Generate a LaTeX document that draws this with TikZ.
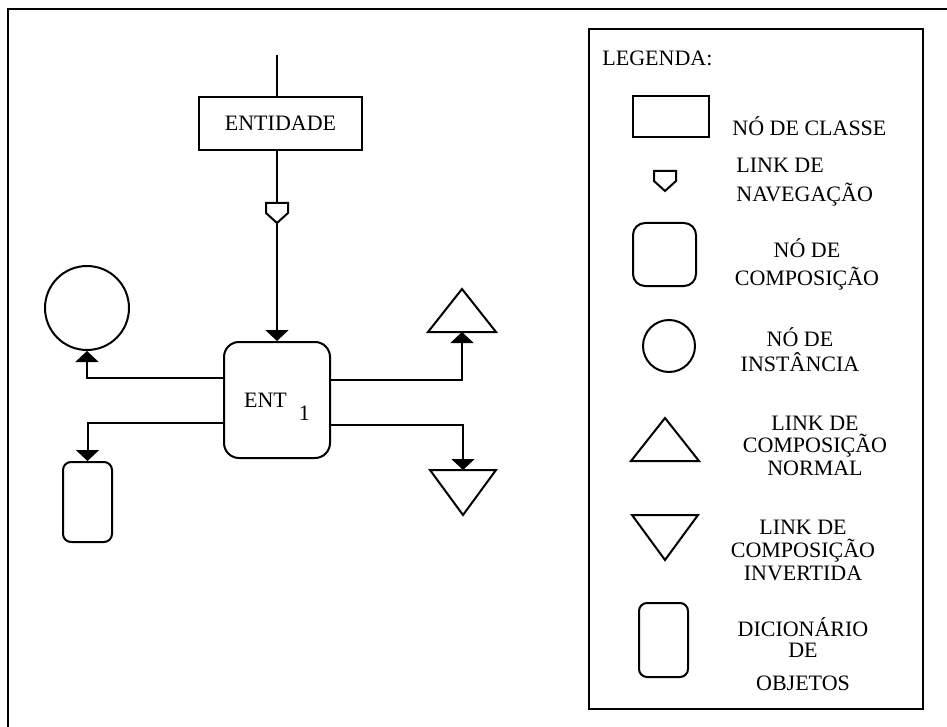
\documentclass[tikz,border=0pt]{standalone}
\usepackage{fontspec}
\setmainfont{Liberation Serif}
\usetikzlibrary{arrows.meta}

\newcommand\legfont[1]{\fontsize{11}{#1}\selectfont}

\tikzset{
  classe/.style={draw, line width=1pt, inner sep=0pt},
  compos/.style={draw, line width=1pt, inner sep=0pt},
  inst/.style={draw, circle, line width=1pt, inner sep=0pt},
  link/.style={line width=1pt, -{Triangle[width=11.5pt,length=5.5pt]}},
  legtext/.style={inner sep=0pt, align=center},
  pics/navlink/.style={code={
    \draw[line width=1pt] (-11,0) -- (11,0) -- (11,10) -- (0,20) -- (-11,10) -- cycle;
    \coordinate (-top) at (0,0);
    \coordinate (-bot) at (0,20);
  }},
  pics/normlink/.style={code={
    \draw[line width=1pt] (-34,0) -- (34,0) -- (0,-43) -- cycle;
    \coordinate (-base) at (0,0);
  }},
  pics/invlink/.style={code={
    \draw[line width=1pt] (-33,0) -- (33,0) -- (0,45) -- cycle;
    \coordinate (-top) at (0,0);
  }},
}

\begin{document}
\begin{tikzpicture}[x=0.5pt, y=-0.5pt, font=\legfont{13}]
\useasboundingbox (0,0) rectangle (947,727);
\draw [line width=1.3pt] (947,9) -- (8,9) -- (8,727);

% classe e nó de composição
\coordinate (src) at (277,55);
\node [classe, minimum width=81.5pt, minimum height=26.5pt] (ent) at (280.5,123.5) {ENTIDADE};
\pic (nav) at (277,203) {navlink};
\node [compos, rounded corners=7.5pt, minimum width=53pt, minimum height=58pt, text depth=0pt] (ent1) at (277,400) {ENT\hspace{6pt}\raisebox{-6.5pt}{1}};
\draw [line width=1pt] (src) -- (src |- ent.north);
\draw [line width=1pt] (ent.south -| src) -- (nav-top);
\draw [link] (nav-bot) -- (ent1.north);

% instância, dicionário e links de composição
\node [inst, minimum size=42pt] (inst) at (87,308) {};
\node [compos, rounded corners=4pt, minimum width=24.5pt, minimum height=40pt] (dic) at (87.5,502) {};
\pic (norm) at (462,332) {normlink};
\pic (inv) at (463,470) {invlink};
\draw [link] (ent1.west |- 0,378) -| (inst.south);
\draw [link] (ent1.west |- 0,423) -| (dic.north);
\draw [link] (ent1.east |- 0,380) -| (norm-base);
\draw [link] (ent1.east |- 0,425) -| (inv-top);

% legenda
\node [draw, line width=1.3pt, minimum width=167pt, minimum height=340pt, inner sep=0pt] (legenda) at (756,369) {};
\node [legtext, anchor=west] (leg) at (602,58) {LEGENDA:};
\node [classe, minimum width=38pt, minimum height=20.5pt] (l-classe) at (671,116.5) {};
\node [legtext, anchor=west] at (732,126) {NÓ DE CLASSE};
\pic (l-nav) at (665,171) {navlink};
\node [legtext, align=left, anchor=west, font=\legfont{14.5}] at (736,182.5) {LINK DE\\NAVEGAÇÃO};
\node [compos, rounded corners=6pt, minimum size=31.5pt] (l-compos) at (664.5,254.5) {};
\node [legtext, font=\legfont{14}] at (807,264) {NÓ DE\\COMPOSIÇÃO};
\node [inst, minimum size=26pt] (l-inst) at (669,346) {};
\node [legtext, font=\legfont{12.5}] at (800,349.5) {NÓ DE\\INSTÂNCIA};
\pic (l-norm) at (665,461) {normlink};
\node [legtext, font=\legfont{11.25}] at (815,445.5) {LINK DE\\COMPOSIÇÃO\\NORMAL};
\pic (l-inv) at (665,515) {invlink};
\node [legtext, font=\legfont{11.5}] at (803,550) {LINK DE\\COMPOSIÇÃO\\INVERTIDA};
\node [compos, rounded corners=4pt, minimum width=24.5pt, minimum height=37pt] (l-dic) at (663.5,640) {};
\node [legtext, font=\legfont{10.5}] at (803,654) {DICIONÁRIO\\DE\\[6pt]OBJETOS};
\end{tikzpicture}
\end{document}
